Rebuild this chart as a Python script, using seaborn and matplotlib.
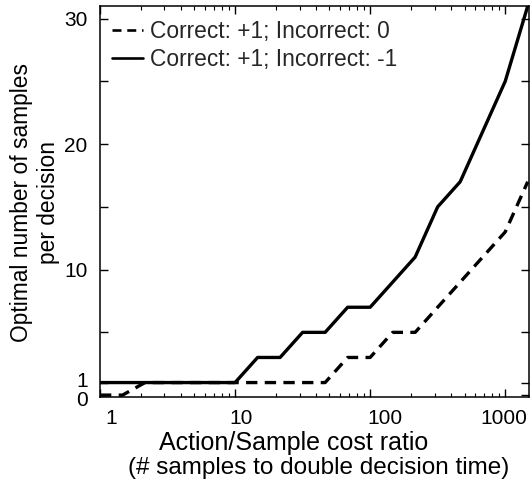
import numpy as np
import pandas as pd
import seaborn as sns
import matplotlib
matplotlib.use("Agg")
import matplotlib.pyplot as plt
from matplotlib import ticker
from matplotlib.transforms import ScaledTranslation

# ---- data ----
# action/sample cost ratio sampled at 10^(k/6)
cost_ratio = [1.0, 1.468, 2.154, 3.162, 4.642, 6.813, 10.0, 14.68, 21.54, 31.62,
              46.42, 68.13, 100.0, 146.8, 215.4, 316.2, 464.2, 681.3, 1000.0, 1468.0]
samples_zero = [0, 0, 1, 1, 1, 1, 1, 1, 1, 1, 1, 3, 3, 5, 5, 7, 9, 11, 13, 17]
samples_minus = [1, 1, 1, 1, 1, 1, 1, 3, 3, 5, 5, 7, 7, 9, 11, 15, 17, 21, 25, 31]
labels = ["Correct: +1; Incorrect: 0", "Correct: +1; Incorrect: -1"]
x_ticks = [1, 10, 100, 1000]
x_ticklabels = ["1", "10", "100", "1000"]
y_ticks = [0, 1, 5, 10, 15, 20, 25, 30]
y_ticklabels = ["0", "1", "", "10", "", "20", "", "30"]
xlabel_1 = "Action/Sample cost ratio"
xlabel_2 = "(# samples to double decision time)"
ylabel = "Optimal number of samples\nper decision"

df = pd.DataFrame({
    "ratio": cost_ratio * 2,
    "samples": samples_zero + samples_minus,
    "reward": [labels[0]] * len(cost_ratio) + [labels[1]] * len(cost_ratio),
})

sns.set_theme(style="white")
plt.rcParams["font.family"] = ["Liberation Sans", "DejaVu Sans"]

W, H = 530, 483
fig = plt.figure(figsize=(W / 100, H / 100), dpi=100)
ax = fig.add_axes([100 / W, 1 - 397 / H, 429 / W, 391 / H])

sns.lineplot(data=df, x="ratio", y="samples", style="reward",
             style_order=labels, dashes={labels[0]: (3.4, 2.2), labels[1]: ""},
             color="black", linewidth=2.4, ax=ax, legend=True)

ax.set_xscale("log")
ax.set_xlim(1, 1500)
ax.set_ylim(-0.15, 31)

ax.set_xticks(x_ticks)
ax.set_xticklabels(x_ticklabels)
ax.xaxis.set_minor_locator(ticker.LogLocator(base=10, subs=np.arange(2, 10)))
ax.xaxis.set_minor_formatter(ticker.NullFormatter())
ax.set_yticks(y_ticks)
ax.set_yticklabels(y_ticklabels)

ax.tick_params(axis="both", which="both", direction="in", top=True, right=True,
               bottom=True, left=True, colors="black", labelsize=15)
ax.tick_params(which="major", length=6, width=1)
ax.tick_params(which="minor", length=3, width=0.8)
ax.tick_params(axis="x", pad=8.5)
ax.tick_params(axis="y", pad=9)

for sp in ax.spines.values():
    sp.set_color("black")
    sp.set_linewidth(1.1)

# label nudges (points) to follow the original layout
x_shift = {"1": 8, "10": 4.5, "100": 10.5, "1000": -1}
for lab in ax.get_xticklabels():
    dx = x_shift.get(lab.get_text(), 0)
    lab.set_transform(lab.get_transform() + ScaledTranslation(dx / 72, 0, fig.dpi_scale_trans))
y_shift = {"1": 2.5, "0": -2.5}
for lab in ax.get_yticklabels():
    dy = y_shift.get(lab.get_text(), 0)
    lab.set_transform(lab.get_transform() + ScaledTranslation(0, dy / 72, fig.dpi_scale_trans))

ax.set_xlabel("")
ax.set_ylabel("")
fig.text(294 / W, 1 - 443 / H, xlabel_1, ha="center", va="center", fontsize=18, color="black")
fig.text(319 / W, 1 - 468 / H, xlabel_2, ha="center", va="center", fontsize=17.5, color="black")
fig.text(35 / W, 1 - 202 / H, ylabel, ha="center", va="center", rotation=90,
         fontsize=16.4, color="black", linespacing=1.2, multialignment="center")

leg = ax.legend(loc="upper left", bbox_to_anchor=(0.029, 0.965), frameon=False,
                fontsize=16.4, handlelength=1.32, handletextpad=0.35,
                borderaxespad=0, labelspacing=0.22, borderpad=0)
for h in leg.get_lines():
    h.set_color("black")
    h.set_linewidth(1.9)

fig.savefig("out.png", dpi=100)
